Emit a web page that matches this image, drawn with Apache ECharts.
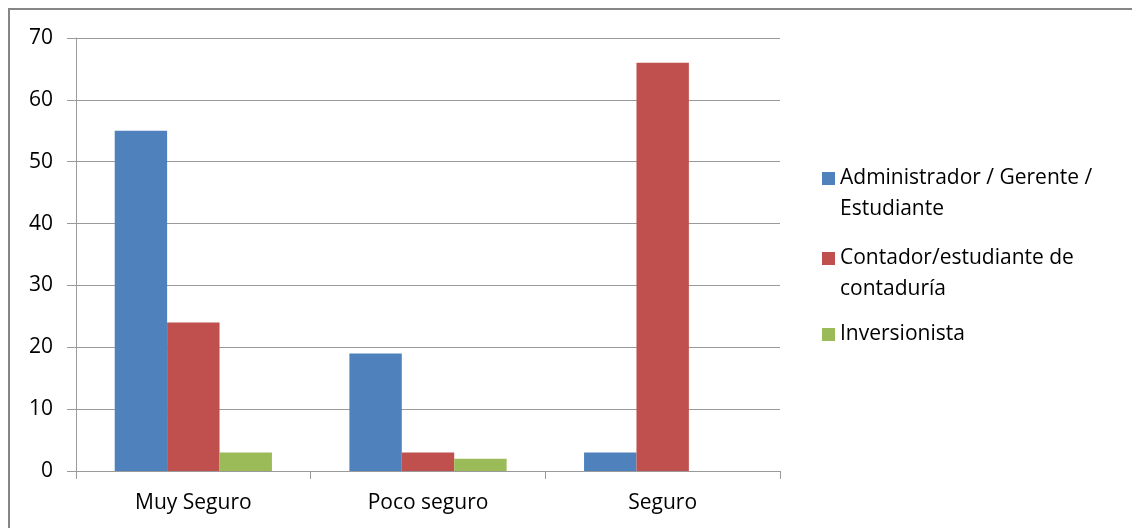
<!DOCTYPE html>
<html>
<head>
<meta charset="utf-8">
<script src="https://cdn.jsdelivr.net/npm/echarts@6/dist/echarts.min.js"></script>
<style>
  html, body { margin: 0; padding: 0; background: #ffffff; }
  #wrap { position: relative; width: 1132px; height: 528px; overflow: hidden; background: #ffffff; }
  #chart { position: absolute; left: 0; top: 0; width: 1132px; height: 528px; }
  #frame { position: absolute; left: 8px; top: 8px; width: 1140px; height: 540px;
           border-left: 2px solid #868686; border-top: 2px solid #868686; pointer-events: none; }
</style>
</head>
<body>
<div id="wrap">
  <div id="chart"></div>
  <div id="frame"></div>
</div>
<script>
// ---- data ----
const categories = ['Muy Seguro', 'Poco seguro', 'Seguro'];
const seriesNames = ['Administrador / Gerente / Estudiante', 'Contador/estudiante de contaduría', 'Inversionista'];
const legendLabels = ['\nAdministrador / Gerente /\nEstudiante', '\nContador/estudiante de\ncontaduría', 'Inversionista'];
const adminValues = [55, 19, 3];
const contadorValues = [24, 3, 66];
const inversionistaValues = [3, 2, 0];
const yTicks = [0, 10, 20, 30, 40, 50, 60, 70];

const colors = ['#4F81BD', '#C0504D', '#9BBB59'];
const FONT = '"Open Sans", "Liberation Sans", sans-serif';
const gridColor = '#9a9a9a';

function makeLegend(i, top) {
  return {
    orient: 'vertical',
    left: 822,
    top: top,
    padding: 0,
    itemWidth: 13,
    itemHeight: 13,
    itemGap: 0,
    icon: 'rect',
    selectedMode: false,
    data: [seriesNames[i]],
    formatter: function (name) { return legendLabels[seriesNames.indexOf(name)]; },
    textStyle: {
      fontFamily: FONT,
      fontSize: 21,
      lineHeight: 31,
      color: '#000000'
    }
  };
}

const chart = echarts.init(document.getElementById('chart'), null, { renderer: 'canvas' });
chart.setOption({
  animation: false,
  backgroundColor: 'transparent',
  color: colors,
  grid: { left: 76, right: 352, top: 38, bottom: 57, containLabel: false },
  legend: [
    makeLegend(0, 132),
    makeLegend(1, 212),
    makeLegend(2, 319)
  ],
  xAxis: {
    type: 'category',
    data: categories,
    boundaryGap: true,
    axisLine: { show: true, lineStyle: { color: gridColor, width: 1 } },
    axisTick: { show: true, alignWithLabel: false, length: 8, lineStyle: { color: gridColor } },
    axisLabel: { fontFamily: FONT, fontSize: 21, color: '#000000', margin: 22 },
    splitLine: { show: false }
  },
  yAxis: {
    type: 'value',
    min: 0,
    max: 70,
    interval: 10,
    axisLine: { show: true, lineStyle: { color: gridColor, width: 1 } },
    axisTick: { show: true, inside: false, length: 9, lineStyle: { color: gridColor } },
    axisLabel: {
      fontFamily: FONT, fontSize: 21, color: '#000000', margin: 23,
      formatter: function (v) { return yTicks.indexOf(v) >= 0 ? String(v) : ''; }
    },
    splitLine: { show: true, lineStyle: { color: gridColor, width: 1 } }
  },
  series: [
    { name: seriesNames[0], type: 'bar', data: adminValues, barGap: '0%', barCategoryGap: '33%', itemStyle: { color: colors[0] } },
    { name: seriesNames[1], type: 'bar', data: contadorValues, barGap: '0%', barCategoryGap: '33%', itemStyle: { color: colors[1] } },
    { name: seriesNames[2], type: 'bar', data: inversionistaValues, barGap: '0%', barCategoryGap: '33%', itemStyle: { color: colors[2] } }
  ]
});
</script>
</body>
</html>
